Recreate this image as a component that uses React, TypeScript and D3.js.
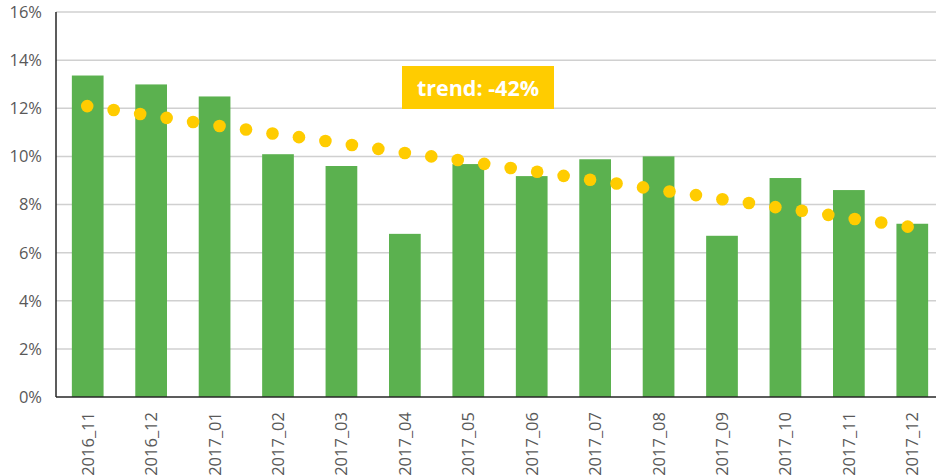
import React from "react";
import * as d3 from "d3";

const categories = [
  "2016_11", "2016_12", "2017_01", "2017_02", "2017_03", "2017_04", "2017_05",
  "2017_06", "2017_07", "2017_08", "2017_09", "2017_10", "2017_11", "2017_12",
];
const barValues = [13.36, 12.99, 12.49, 10.09, 9.6, 6.78, 9.68, 9.18, 9.88, 10.0, 6.7, 9.1, 8.6, 7.2];
const trendValues = [
  12.09, 11.93, 11.76, 11.6, 11.43, 11.26, 11.12, 10.95, 10.8, 10.64, 10.47,
  10.31, 10.14, 10.0, 9.85, 9.69, 9.52, 9.36, 9.19, 9.03, 8.87, 8.71, 8.54,
  8.39, 8.22, 8.06, 7.89, 7.74, 7.57, 7.4, 7.25, 7.08,
];
const yTicks = [0, 2, 4, 6, 8, 10, 12, 14, 16];
const trendLabel = "trend: -42%";

const W = 936;
const H = 475;
const left = 56;
const top = 12;
const bottom = 397;
const font = "'Open Sans', 'DejaVu Sans', sans-serif";

export default function App() {
  const x = d3
    .scaleBand<string>()
    .domain(categories)
    .range([left, left + 888])
    .paddingInner(0.5)
    .paddingOuter(0.25);
  const y = d3.scaleLinear().domain([0, 16]).range([bottom, top]);
  const firstC = (x(categories[0]) ?? 0) + x.bandwidth() / 2;
  const tx = d3
    .scaleLinear()
    .domain([0, trendValues.length - 1])
    .range([firstC - 0.5, 907.7]);

  return (
    <svg
      width={W}
      height={H}
      style={{ position: "absolute", left: 0, top: 0, background: "#fff" }}
    >
      {yTicks.map((t) => (
        <g key={t}>
          {t > 0 && (
            <line x1={left} x2={W} y1={y(t)} y2={y(t)} stroke="#d0d0d0" strokeWidth={1.5} />
          )}
          <text
            x={42}
            y={y(t)}
            dy="0.36em"
            textAnchor="end"
            fontFamily={font}
            fontSize={16.5}
            fill="#595959"
          >
            {t}%
          </text>
        </g>
      ))}
      {categories.map((c, i) => (
        <rect
          key={c}
          x={x(c)}
          y={y(barValues[i])}
          width={x.bandwidth()}
          height={bottom - y(barValues[i])}
          fill="#5bb14f"
        />
      ))}
      {trendValues.map((v, i) => (
        <circle key={i} cx={tx(i)} cy={y(v)} r={6.3} fill="#ffcc00" />
      ))}
      <line x1={left} x2={left} y1={top} y2={bottom} stroke="#262626" strokeWidth={1.5} />
      <line x1={left} x2={W} y1={bottom} y2={bottom} stroke="#262626" strokeWidth={1.5} />
      {categories.map((c) => {
        const cx = (x(c) ?? 0) + x.bandwidth() / 2;
        return (
          <text
            key={c}
            transform={`translate(${cx},${412}) rotate(-90)`}
            textAnchor="end"
            dy="0.36em"
            fontFamily={font}
            fontSize={16.5}
            fill="#595959"
          >
            {c}
          </text>
        );
      })}
      <rect x={402} y={66} width={152} height={43} fill="#ffcc00" />
      <text
        x={478}
        y={96}
        textAnchor="middle"
        fontFamily={font}
        fontWeight="bold"
        fontSize={21.5}
        fill="#fff"
      >
        {trendLabel}
      </text>
    </svg>
  );
}
